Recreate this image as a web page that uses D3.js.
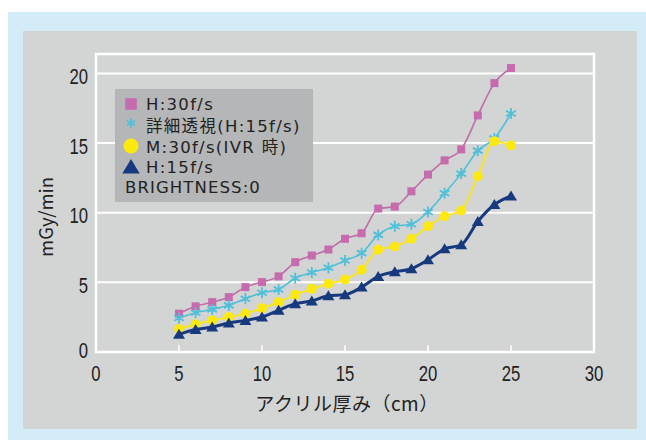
<!DOCTYPE html>
<html>
<head>
<meta charset="utf-8">
<script src="https://cdn.jsdelivr.net/npm/d3@7"></script>
<style>
  html, body { margin: 0; padding: 0; background: #fff; }
  svg { display: block; }
</style>
</head>
<body>
<div id="chart"></div>
<script>
const thickness = [5, 6, 7, 8, 9, 10, 11, 12, 13, 14, 15, 16, 17, 18, 19, 20, 21, 22, 23, 24, 25];
const h30 = [2.75, 3.28, 3.58, 3.94, 4.66, 5.02, 5.43, 6.45, 6.93, 7.36, 8.13, 8.53, 10.3, 10.44, 11.54, 12.74, 13.76, 14.55, 16.99, 19.31, 20.39];
const detail15 = [2.44, 2.82, 3.06, 3.35, 3.83, 4.26, 4.49, 5.3, 5.71, 6.05, 6.57, 7.1, 8.41, 9.03, 9.18, 10.06, 11.4, 12.81, 14.46, 15.34, 17.13];
const m30ivr = [1.65, 1.99, 2.27, 2.51, 2.75, 3.15, 3.58, 4.11, 4.54, 4.9, 5.2, 5.91, 7.34, 7.58, 8.13, 9.03, 9.75, 10.16, 12.62, 15.13, 14.84];
const h15 = [1.27, 1.61, 1.79, 2.08, 2.27, 2.51, 2.99, 3.47, 3.66, 4.04, 4.11, 4.66, 5.43, 5.76, 5.98, 6.62, 7.41, 7.7, 9.37, 10.59, 11.21];
const seriesNames = ["H:30f/s", "詳細透視(H:15f/s)", "M:30f/s(IVR 時)", "H:15f/s"];
const xTicks = [0, 5, 10, 15, 20, 25, 30];
const yTicks = [0, 5, 10, 15, 20];

const series = [
  { name: seriesNames[0], values: h30, color: "#c66bae", line: "#c16ca9", width: 1.6, shape: "square" },
  { name: seriesNames[1], values: detail15, color: "#4fc0d8", line: "#4fc0d8", width: 1.6, shape: "asterisk" },
  { name: seriesNames[2], values: m30ivr, color: "#fde910", line: "#fde910", width: 1.8, shape: "circle" },
  { name: seriesNames[3], values: h15, color: "#173a7e", line: "#173a7e", width: 3, shape: "triangle" }
];

const W = 646, H = 440;
const plot = { left: 96, right: 594, top: 54, bottom: 352 };

const svg = d3.select("#chart").append("svg")
  .attr("width", W)
  .attr("height", H);

// background panels
svg.append("rect").attr("x", 8).attr("y", 12).attr("width", W - 8).attr("height", 428).attr("fill", "#d4ebf8");
svg.append("rect").attr("x", 23).attr("y", 31).attr("width", 614).attr("height", 398).attr("fill", "#d3d4d4");

const x = d3.scaleLinear().domain([0, 30]).range([plot.left, plot.right]);
const y = d3.scaleLinear().domain([0, 21.4]).range([plot.bottom, plot.top]);

// gridlines
svg.append("g").selectAll("line")
  .data(yTicks.filter(d => d > 0))
  .enter().append("line")
  .attr("x1", plot.left).attr("x2", plot.right)
  .attr("y1", d => y(d)).attr("y2", d => y(d))
  .attr("stroke", "#fff").attr("stroke-width", 2);

// frame
svg.append("rect")
  .attr("x", plot.left).attr("y", plot.top)
  .attr("width", plot.right - plot.left).attr("height", plot.bottom - plot.top)
  .attr("fill", "none").attr("stroke", "#fff").attr("stroke-width", 2.5);

// x ticks inside
svg.append("g").selectAll("line")
  .data(xTicks.slice(1, -1))
  .enter().append("line")
  .attr("x1", d => x(d)).attr("x2", d => x(d))
  .attr("y1", plot.bottom).attr("y2", plot.bottom - 7)
  .attr("stroke", "#fff").attr("stroke-width", 1.5);

// condensed-looking tick numbers
const tickFont = "'Liberation Sans', Arial, sans-serif";

svg.append("g").selectAll("text")
  .data(xTicks)
  .enter().append("text")
  .attr("x", d => x(d))
  .attr("y", 381)
  .attr("text-anchor", "middle")
  .attr("font-family", tickFont)
  .attr("font-size", 22)
  .attr("textLength", d => String(d).length * 9.3)
  .attr("lengthAdjust", "spacingAndGlyphs")
  .attr("fill", "#222")
  .text(d => d);

svg.append("g").selectAll("text")
  .data(yTicks)
  .enter().append("text")
  .attr("x", 88)
  .attr("y", d => d === 0 ? 358 : y(d) + 10.5)
  .attr("text-anchor", "end")
  .attr("font-family", tickFont)
  .attr("font-size", 22)
  .attr("textLength", d => String(d).length * 9.3)
  .attr("lengthAdjust", "spacingAndGlyphs")
  .attr("fill", "#222")
  .text(d => d);

const cjk = "'Noto Sans CJK JP', 'Noto Sans', sans-serif";

svg.append("text")
  .attr("x", 347).attr("y", 411)
  .attr("text-anchor", "middle")
  .attr("font-family", cjk)
  .attr("font-size", 19)
  .attr("letter-spacing", 0.5)
  .attr("fill", "#222")
  .text("アクリル厚み（cm）");

svg.append("text")
  .attr("transform", "translate(53,217) rotate(-90)")
  .attr("text-anchor", "middle")
  .attr("font-family", cjk)
  .attr("font-size", 18.5)
  .attr("fill", "#222")
  .text("mGy/min");

function drawMarker(g, shape, color, k) {
  if (shape === "square") {
    g.append("rect").attr("x", -4 * k).attr("y", -4 * k).attr("width", 8 * k).attr("height", 8 * k).attr("fill", color);
  } else if (shape === "circle") {
    g.append("circle").attr("r", 5 * k).attr("fill", color);
  } else if (shape === "triangle") {
    g.append("path").attr("d", `M0,${-5.5 * k}L${6 * k},${4.5 * k}L${-6 * k},${4.5 * k}Z`).attr("fill", color);
  } else {
    const r = 5.5 * k;
    let d = "";
    [90, 30, -30].forEach(a => {
      const rad = a * Math.PI / 180;
      d += `M${r * Math.cos(rad)},${-r * Math.sin(rad)}L${-r * Math.cos(rad)},${r * Math.sin(rad)}`;
    });
    g.append("path").attr("d", d).attr("stroke", color).attr("stroke-width", 1.8).attr("fill", "none");
  }
}

const line = d3.line()
  .x((d, i) => x(thickness[i]))
  .y(d => y(d))
  .curve(d3.curveMonotoneX);

series.forEach(s => {
  svg.append("path")
    .datum(s.values)
    .attr("d", line)
    .attr("fill", "none")
    .attr("stroke", s.line)
    .attr("stroke-width", s.width);

  svg.append("g").selectAll("g")
    .data(s.values)
    .enter().append("g")
    .attr("transform", (d, i) => `translate(${x(thickness[i])},${y(d)})`)
    .each(function () { drawMarker(d3.select(this), s.shape, s.color, 1); });
});

// legend
const legend = svg.append("g");
legend.append("rect")
  .attr("x", 115).attr("y", 89).attr("width", 198).attr("height", 113)
  .attr("fill", "#b5b6b7");

const legendFont = "'DejaVu Sans', 'Noto Sans CJK JP', sans-serif";
const markY = [104, 123, 146, 167];
const textY = [110, 131.5, 152.5, 173.3, 193.3];
series.forEach((s, i) => {
  const g = legend.append("g").attr("transform", `translate(131,${markY[i]})`);
  drawMarker(g, s.shape, s.color, s.shape === "circle" ? 1.5 : s.shape === "asterisk" ? 0.85 : 1.45);
  legend.append("text")
    .attr("x", 146).attr("y", textY[i])
    .attr("font-family", legendFont)
    .attr("font-size", 16.5)
    .attr("letter-spacing", 1.3)
    .attr("fill", "#222")
    .text(s.name);
});
legend.append("text")
  .attr("x", 125).attr("y", textY[4])
  .attr("font-family", legendFont)
  .attr("font-size", 16.5)
  .attr("letter-spacing", 1.1)
  .attr("fill", "#222")
  .text("BRIGHTNESS:0");
</script>
</body>
</html>
